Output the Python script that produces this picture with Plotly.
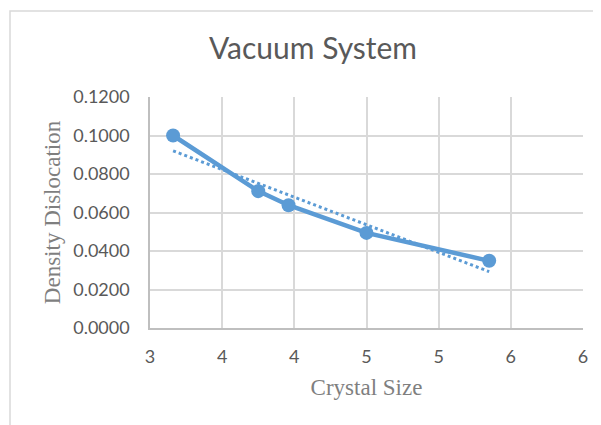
import numpy as np
import plotly.graph_objects as go

# Data
crystal_size = [3.16, 3.75, 3.96, 4.50, 5.35]
density_dislocation = [0.1000, 0.0711, 0.0638, 0.0494, 0.0349]

x_tick_values = [3.0, 3.5, 4.0, 4.5, 5.0, 5.5, 6.0]
x_tick_labels = ["3", "4", "4", "5", "5", "6", "6"]
y_tick_values = [0.0, 0.02, 0.04, 0.06, 0.08, 0.10, 0.12]

chart_title = "Vacuum System"
x_title = "Crystal Size"
y_title = "Density Dislocation"

# Linear trendline (least squares) over the data range
slope, intercept = np.polyfit(crystal_size, density_dislocation, 1)
trend_x = [min(crystal_size), max(crystal_size)]
trend_y = [slope * v + intercept for v in trend_x]

blue = "#5B9BD5"
grid = "#D9D9D9"

fig = go.Figure()
fig.add_trace(go.Scatter(
    x=trend_x, y=trend_y, mode="lines",
    line=dict(color=blue, width=3, dash="dot"),
    hoverinfo="skip", showlegend=False,
))
fig.add_trace(go.Scatter(
    x=crystal_size, y=density_dislocation, mode="lines+markers",
    line=dict(color=blue, width=4.5),
    marker=dict(color=blue, size=14),
    showlegend=False,
))

# page has an 8px body margin, so the figure is 8px smaller than the window
W, H = 593, 417
L, R, T, B = 142, 18, 89, 97
pw, ph = W - L - R, H - T - B

def px_to_paper_x(px):
    return (px - L) / pw

def px_to_paper_y(py):
    return (H - B - py) / ph

fig.update_layout(
    width=W, height=H,
    margin=dict(l=L, r=R, t=T, b=B),
    paper_bgcolor="white", plot_bgcolor="white",
    title=dict(
        text=chart_title, xref="container", yref="container",
        x=305 / W, y=1 - 40 / H, xanchor="center", yanchor="middle",
        font=dict(family="Lato", size=30, color="#595959"),
    ),
    xaxis=dict(
        range=[3, 6], tickvals=x_tick_values, ticktext=x_tick_labels,
        showgrid=True, gridcolor=grid, gridwidth=1.5,
        showline=True, linecolor="#BFBFBF", linewidth=1.5,
        zeroline=False, ticks="", ticklabelstandoff=12,
        tickfont=dict(family="Lato", size=18, color="#595959"),
        title=dict(text=x_title, standoff=13,
                   font=dict(family="Liberation Serif", size=23, color="#7F7F7F")),
    ),
    yaxis=dict(
        range=[0, 0.12], tickvals=y_tick_values, tickformat=".4f",
        showgrid=True, gridcolor=grid, gridwidth=1.5,
        showline=True, linecolor="#BFBFBF", linewidth=1.5,
        zeroline=False, ticks="", ticklabelstandoff=15,
        tickfont=dict(family="Lato", size=18, color="#595959"),
        title=dict(text=y_title, standoff=6,
                   font=dict(family="Liberation Serif", size=23, color="#7F7F7F")),
    ),
    shapes=[dict(
        type="rect", xref="paper", yref="paper", layer="below",
        x0=px_to_paper_x(2), x1=px_to_paper_x(W + 40),
        y0=px_to_paper_y(H + 40), y1=px_to_paper_y(3),
        line=dict(color=grid, width=1.5), fillcolor="rgba(0,0,0,0)",
    )],
)

fig.write_html("out.html")
